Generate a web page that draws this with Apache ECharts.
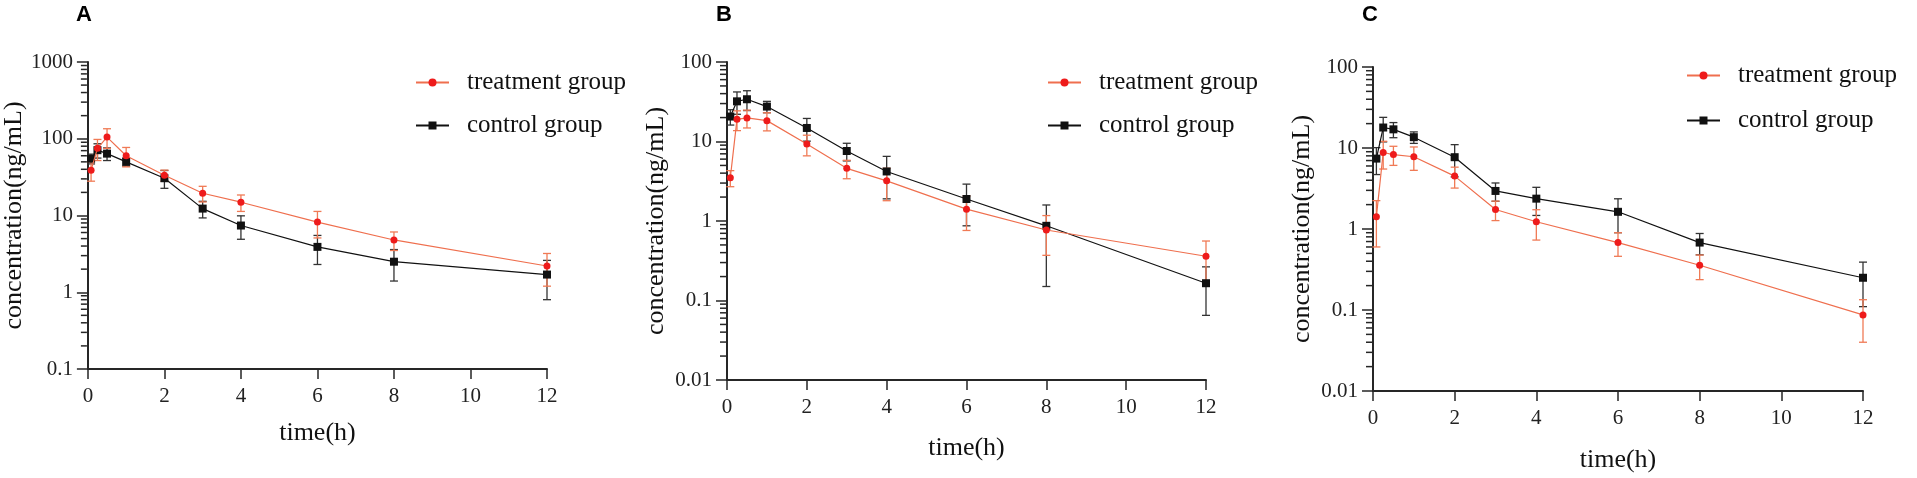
<!DOCTYPE html>
<html>
<head>
<meta charset="utf-8">
<script src="https://cdn.jsdelivr.net/npm/echarts@6/dist/echarts.min.js"></script>
<style>
  html, body { margin: 0; background: #fff; }
  #chart { width: 1917px; height: 478px; }
</style>
</head>
<body>
<div id="chart"></div>
<script>
// sampling times (h), shared by all three panels
const times = [0.083, 0.25, 0.5, 1, 2, 3, 4, 6, 8, 12];
const xTicks = [0, 2, 4, 6, 8, 10, 12];
const panelLabels = ["A", "B", "C"];
const groupNames = ["treatment group", "control group"];

// panel A
const treatA = [39, 75, 105, 60, 33.5, 19.5, 14.9, 8.2, 4.8, 2.2];
const treatSdA = [11, 23, 30, 17, 5.5, 4.5, 3.6, 3.1, 1.3, 1.0];
const ctrlA = [55, 71, 64, 50, 30.6, 12.3, 7.4, 3.9, 2.5, 1.7];
const ctrlSdA = [8, 15, 12, 6, 8, 3, 2.5, 1.6, 1.1, 0.9];

// panel B
const treatB = [3.5, 19, 19.8, 18.3, 9.3, 4.6, 3.2, 1.41, 0.77, 0.36];
const treatSdB = [0.8, 5.3, 5, 4.7, 2.7, 1.2, 1.4, 0.65, 0.4, 0.2];
const ctrlB = [20.6, 32, 34, 27.5, 14.8, 7.6, 4.2, 1.89, 0.87, 0.165];
const ctrlSdB = [4.5, 10, 9.5, 4.5, 4.7, 1.9, 2.3, 1.02, 0.72, 0.1];

// panel C
const treatC = [1.42, 8.8, 8.3, 7.8, 4.5, 1.74, 1.23, 0.68, 0.357, 0.087];
const treatSdC = [0.82, 3.3, 2.2, 2.5, 1.3, 0.47, 0.5, 0.22, 0.12, 0.047];
const ctrlC = [7.4, 17.9, 17, 13.6, 7.7, 2.95, 2.37, 1.63, 0.68, 0.25];
const ctrlSdC = [2.7, 6, 3.6, 2.2, 3.3, 0.75, 0.9, 0.73, 0.2, 0.14];

// y ranges (log10)
const yRanges = [[0.1, 1000], [0.01, 100], [0.01, 100]];

const RED_LINE = "#EF6F4E";
const RED_DOT = "#EE1B1B";
const BLACK = "#111";
const AXIS = "#262626";
const SERIF = "Liberation Serif";

const panels = [
  { grid: { left: 87, top: 62, width: 460, height: 307 }, legend: { left: 415, top: 70, gap: 18 },
    treat: treatA, treatSd: treatSdA, ctrl: ctrlA, ctrlSd: ctrlSdA, xGap: 51 },
  { grid: { left: 727, top: 62, width: 479, height: 318 }, legend: { left: 1047, top: 70, gap: 18 },
    treat: treatB, treatSd: treatSdB, ctrl: ctrlB, ctrlSd: ctrlSdB, xGap: 55 },
  { grid: { left: 1373, top: 67, width: 490, height: 327 }, legend: { left: 1686, top: 63, gap: 20 },
    treat: treatC, treatSd: treatSdC, ctrl: ctrlC, ctrlSd: ctrlSdC, xGap: 56 },
];

function errorBarRender(color) {
  return function (params, api) {
    const x = api.value(0);
    const top = api.coord([x, api.value(2)]);
    const bot = api.coord([x, api.value(1)]);
    const w = 4;
    const style = { stroke: color, lineWidth: 1.3 };
    return {
      type: "group",
      children: [
        { type: "line", shape: { x1: top[0], y1: top[1], x2: bot[0], y2: bot[1] }, style },
        { type: "line", shape: { x1: top[0] - w, y1: top[1], x2: top[0] + w, y2: top[1] }, style },
        { type: "line", shape: { x1: bot[0] - w, y1: bot[1], x2: bot[0] + w, y2: bot[1] }, style },
      ],
    };
  };
}

// log minor ticks (2..9 per decade), drawn just left of the y axis line
function minorTickRender(params, api) {
  const p = api.coord([api.value(0), api.value(1)]);
  return {
    type: "line",
    shape: { x1: p[0] - 7, y1: p[1], x2: p[0] - 1, y2: p[1] },
    style: { stroke: AXIS, lineWidth: 1.5 },
  };
}

function minorValues(range) {
  const out = [];
  for (let d = range[0]; d < range[1] * 0.99; d *= 10) {
    for (let k = 2; k <= 9; k++) out.push([0, +(d * k).toPrecision(6)]);
  }
  return out;
}

const option = {
  backgroundColor: "#fff",
  animation: false,
  textStyle: { fontFamily: SERIF },
  title: [],
  grid: [],
  xAxis: [],
  yAxis: [],
  legend: [],
  series: [],
};

panels.forEach((p, i) => {
  option.title.push({
    text: panelLabels[i],
    left: p.grid.left - 11,
    top: 4,
    padding: 0,
    textStyle: { fontFamily: "Liberation Sans", fontWeight: "bold", fontSize: 22, color: "#000" },
  });
  option.grid.push(p.grid);
  option.xAxis.push({
    type: "value",
    gridIndex: i,
    min: 0,
    max: 12,
    interval: 2,
    name: "time(h)",
    nameLocation: "middle",
    nameGap: p.xGap,
    nameTextStyle: { fontFamily: SERIF, fontSize: 26, color: "#111" },
    axisLine: { lineStyle: { color: AXIS, width: 2 } },
    axisTick: { inside: false, length: 10, lineStyle: { color: AXIS, width: 1.5 } },
    axisLabel: {
      margin: 17,
      fontFamily: SERIF,
      fontSize: 21,
      color: "#222",
      customValues: xTicks,
    },
    splitLine: { show: false },
  });
  option.yAxis.push({
    type: "log",
    logBase: 10,
    gridIndex: i,
    min: yRanges[i][0],
    max: yRanges[i][1],
    name: "concentration(ng/mL)",
    nameLocation: "middle",
    nameGap: 58,
    nameTextStyle: { fontFamily: SERIF, fontSize: 26, color: "#111" },
    axisLine: { show: true, lineStyle: { color: AXIS, width: 2 } },
    axisTick: { show: true, inside: false, length: 11, lineStyle: { color: AXIS, width: 1.5 } },
    axisLabel: {
      margin: 15,
      fontFamily: SERIF,
      fontSize: 21,
      color: "#222",
      formatter: (v) => String(+(+v).toPrecision(6)),
    },
    splitLine: { show: false },
  });
  option.legend.push({
    data: groupNames,
    orient: "vertical",
    left: p.legend.left,
    top: p.legend.top,
    padding: 0,
    itemGap: p.legend.gap,
    itemWidth: 33,
    itemHeight: 10,
    selectedMode: false,
    textStyle: { fontFamily: SERIF, fontSize: 25, color: "#111", padding: [0, 0, 0, 13] },
  });

  const treatBars = times.map((t, j) => [t, p.treat[j] - p.treatSd[j], p.treat[j] + p.treatSd[j]]);
  const ctrlBars = times.map((t, j) => [t, p.ctrl[j] - p.ctrlSd[j], p.ctrl[j] + p.ctrlSd[j]]);

  option.series.push(
    {
      type: "custom",
      xAxisIndex: i,
      yAxisIndex: i,
      data: minorValues(yRanges[i]),
      encode: { x: 0, y: 1 },
      renderItem: minorTickRender,
      clip: false,
      silent: true,
      z: 10,
    },
    {
      type: "custom",
      xAxisIndex: i,
      yAxisIndex: i,
      data: ctrlBars,
      encode: { x: 0, y: [1, 2] },
      renderItem: errorBarRender("#333"),
      silent: true,
      z: 2,
    },
    {
      type: "custom",
      xAxisIndex: i,
      yAxisIndex: i,
      data: treatBars,
      encode: { x: 0, y: [1, 2] },
      renderItem: errorBarRender("#F07A55"),
      silent: true,
      z: 2,
    },
    {
      name: groupNames[1],
      type: "line",
      xAxisIndex: i,
      yAxisIndex: i,
      data: times.map((t, j) => [t, p.ctrl[j]]),
      symbol: "rect",
      symbolSize: 8,
      lineStyle: { color: BLACK, width: 1.2 },
      itemStyle: { color: BLACK },
      z: 3,
    },
    {
      name: groupNames[0],
      type: "line",
      xAxisIndex: i,
      yAxisIndex: i,
      data: times.map((t, j) => [t, p.treat[j]]),
      symbol: "circle",
      symbolSize: 7,
      lineStyle: { color: RED_LINE, width: 1.2 },
      itemStyle: { color: RED_DOT },
      z: 4,
    }
  );
});

const chart = echarts.init(document.getElementById("chart"), null, { renderer: "canvas" });
chart.setOption(option);
window.addEventListener("resize", () => chart.resize());
</script>
</body>
</html>
